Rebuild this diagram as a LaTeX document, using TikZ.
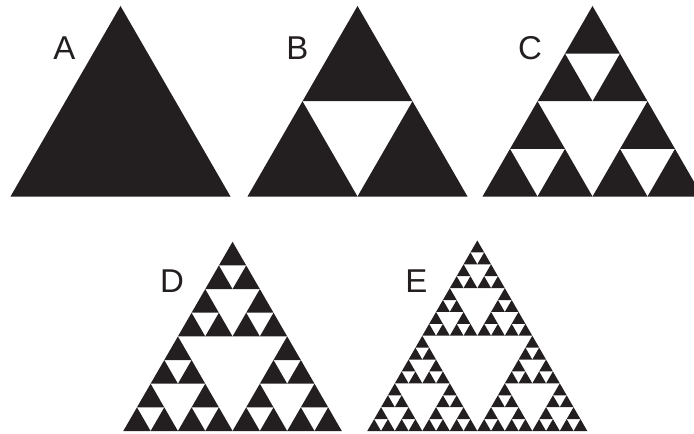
\documentclass[tikz,border=0pt]{standalone}
\usepackage{fontspec}
\setmainfont{Liberation Sans}
\usepackage{tikz}
\definecolor{ink}{RGB}{35,31,32}
\tikzset{
  tri/.style={fill=ink},
  lbl/.style={inner sep=0pt,text=ink,font=\fontsize{33}{33}\selectfont},
}
% level, left base x, base y, side
\newcommand{\sierp}[4]{%
  \ifnum#1=0
    \fill[tri] (#2,#3) -- ++(#4,0) -- ++(120:#4) -- cycle;
  \else
    \begingroup
    \pgfmathsetmacro\sHalf{#4/2}%
    \pgfmathsetmacro\sXr{#2+\sHalf}%
    \pgfmathsetmacro\sXm{#2+\sHalf/2}%
    \pgfmathsetmacro\sYm{#3+\sHalf*0.8660254}%
    \pgfmathtruncatemacro\sLev{#1-1}%
    \edef\sNext{\noexpand\sierp{\sLev}{#2}{#3}{\sHalf}%
      \noexpand\sierp{\sLev}{\sXr}{#3}{\sHalf}%
      \noexpand\sierp{\sLev}{\sXm}{\sYm}{\sHalf}}%
    \sNext
    \endgroup
  \fi}
\begin{document}
\begin{tikzpicture}[x=1pt,y=1pt]
  \useasboundingbox (0,0) rectangle (694,-434);
  \clip (0,0) rectangle (694,-434);
  % the five stages
  \sierp{0}{10.5}{-196.5}{220}
  \sierp{1}{247.5}{-196.5}{220}
  \sierp{2}{482.5}{-196.5}{220}
  \sierp{3}{123.3}{-431}{218.5}
  \sierp{4}{367.3}{-431}{220}
  % labels
  \node[lbl] (lblA) at (64.5,-48) {A};
  \node[lbl] (lblB) at (297.5,-48.5) {B};
  \node[lbl] (lblC) at (530,-48.5) {C};
  \node[lbl] (lblD) at (172,-281.5) {D};
  \node[lbl] (lblE) at (416.5,-281) {E};
\end{tikzpicture}
\end{document}
